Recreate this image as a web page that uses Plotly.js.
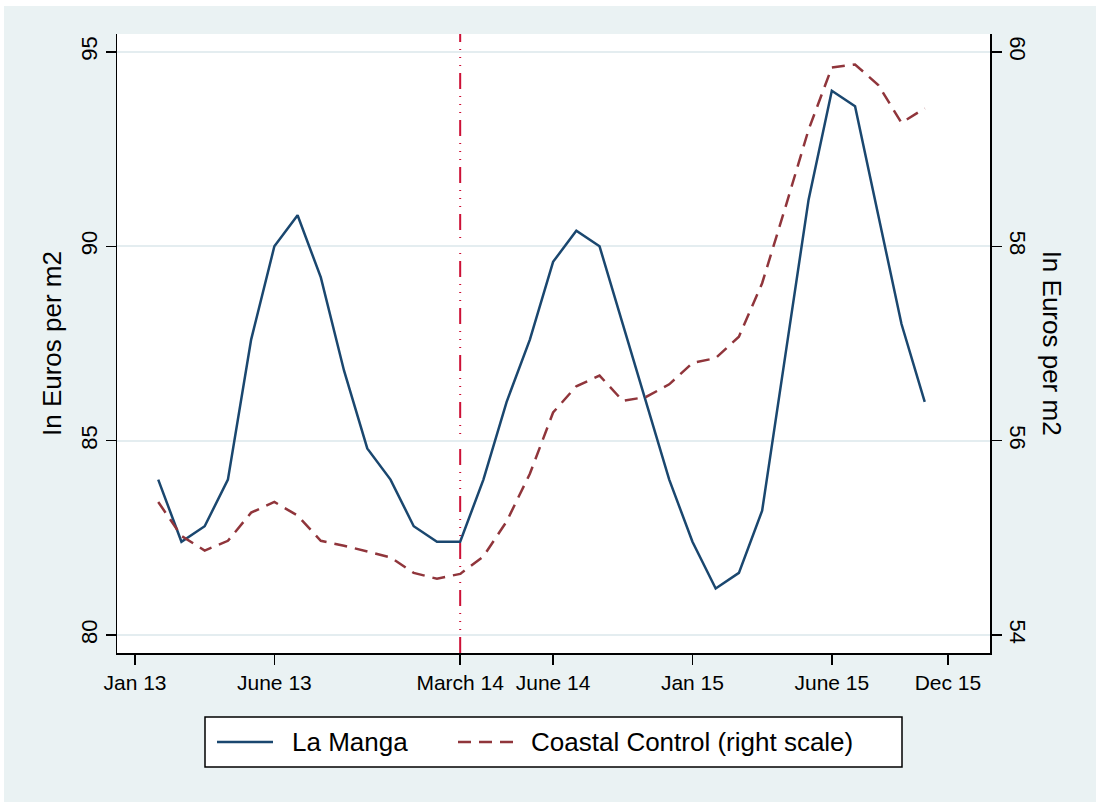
<!DOCTYPE html>
<html>
<head>
<meta charset="utf-8">
<script src="https://cdn.plot.ly/plotly-3.0.1.min.js"></script>
<style>
  html, body { margin: 0; padding: 0; background: #ffffff; }
  #chart { position: absolute; left: 4px; top: 6px; width: 1092px; height: 796px; }
</style>
</head>
<body>
<div id="chart"></div>
<script>
// Period index of each observation (Jan 13 = 0 on this scale)
const periods = [1, 2, 3, 4, 5, 6, 7, 8, 9, 10, 11, 12, 13, 14, 15, 16, 17,
                 18, 19, 20, 21, 22, 23, 24, 25, 26, 27, 28, 29, 30, 31, 32, 33, 34];

// La Manga, Euros per m2 (left scale)
const laManga = [84.0, 82.4, 82.8, 84.0, 87.6, 90.0, 90.8, 89.2, 86.8, 84.8, 84.0, 82.8,
                 82.4, 82.4, 84.0, 86.0, 87.6, 89.6, 90.4, 90.0, 88.0, 86.0, 84.0, 82.4,
                 81.2, 81.6, 83.2, 87.2, 91.2, 94.0, 93.6, 90.8, 88.0, 86.0];

// Coastal control, Euros per m2 (right scale)
const coastalControl = [55.37, 55.02, 54.87, 54.97, 55.26, 55.37, 55.23, 54.97, 54.92, 54.86,
                        54.80, 54.64, 54.58, 54.63, 54.81, 55.17, 55.66, 56.29, 56.56, 56.67,
                        56.41, 56.45, 56.58, 56.80, 56.85, 57.07, 57.62, 58.40, 59.20, 59.84,
                        59.87, 59.66, 59.27, 59.42];

// Date axis labels
const tickPeriods = [0, 6, 14, 18, 24, 30, 35];
const tickLabels = ['Jan 13', 'June 13', 'March 14', 'June 14', 'Jan 15', 'June 15', 'Dec 15'];

// Left and right value ticks
const leftTicks = [80, 85, 90, 95];
const rightTicks = [54, 56, 58, 60];

// Series names
const seriesNames = ['La Manga', 'Coastal Control (right scale)'];

// Period marked with the vertical reference line
const eventPeriod = 14;

const FONT = 'Liberation Sans, Arial, Helvetica, sans-serif';
const BG = '#eaf2f3';
const NAVY = '#1a476f';
const MAROON = '#90353b';
const SERIES_DASH = '13px,8px';

// Figure geometry (pixels inside the chart div)
const W = 1092, H = 796;
const M = { l: 113, r: 106, t: 28, b: 149 };
const plotW = W - M.l - M.r, plotH = H - M.t - M.b;
// Convert div pixel positions to paper fractions for the legend box
const px = (x) => (x - M.l) / plotW;
const py = (y) => 1 - (y - M.t) / plotH;

const traces = [
  {
    x: periods, y: laManga, name: seriesNames[0],
    type: 'scatter', mode: 'lines', yaxis: 'y',
    line: { color: NAVY, width: 2.5 },
    hoverinfo: 'skip'
  },
  {
    x: periods, y: coastalControl, name: seriesNames[1],
    type: 'scatter', mode: 'lines', yaxis: 'y2',
    line: { color: MAROON, width: 2.5, dash: SERIES_DASH },
    hoverinfo: 'skip'
  }
];

// Legend box laid out below the x axis
const legTop = 711, legBottom = 761, legLeft = 201, legRight = 898;
const legMid = (legTop + legBottom) / 2;

const layout = {
  width: W, height: H,
  paper_bgcolor: BG, plot_bgcolor: '#ffffff',
  margin: M,
  font: { family: FONT, color: '#000000' },
  showlegend: false,
  xaxis: {
    range: [-0.775, 36.81],
    tickmode: 'array', tickvals: tickPeriods, ticktext: tickLabels,
    ticks: 'outside', ticklen: 10, tickwidth: 1.5, tickcolor: '#000',
    tickfont: { size: 21, family: FONT },
    showline: true, linecolor: '#000', linewidth: 1.5,
    showgrid: false, zeroline: false, fixedrange: true
  },
  yaxis: {
    range: [79.54, 95.46],
    tickmode: 'array', tickvals: leftTicks,
    ticks: 'outside', ticklen: 10, tickwidth: 1.5, tickcolor: '#000',
    tickangle: -90,
    tickfont: { size: 22, family: FONT },
    showline: true, linecolor: '#000', linewidth: 1.5,
    showgrid: true, gridcolor: '#e4edf0', gridwidth: 2,
    zeroline: false, fixedrange: true
  },
  yaxis2: {
    overlaying: 'y', side: 'right',
    range: [53.816, 60.184],
    tickmode: 'array', tickvals: rightTicks,
    ticks: 'outside', ticklen: 10, tickwidth: 1.5, tickcolor: '#000',
    tickangle: 90,
    tickfont: { size: 22, family: FONT },
    showline: true, linecolor: '#000', linewidth: 1.5,
    showgrid: false, zeroline: false, fixedrange: true
  },
  shapes: [
    {
      type: 'line', xref: 'x', yref: 'paper',
      x0: eventPeriod, x1: eventPeriod, y0: 0, y1: 1,
      line: { color: '#cc1036', width: 2, dash: '16px,7px,1px,7px,1px,7px,1px,7px' },
      layer: 'below'
    },
    // legend frame
    {
      type: 'rect', xref: 'paper', yref: 'paper',
      x0: px(legLeft), x1: px(legRight), y0: py(legBottom), y1: py(legTop),
      fillcolor: '#ffffff', line: { color: '#000', width: 1.5 }
    },
    // legend key: La Manga
    {
      type: 'line', xref: 'paper', yref: 'paper',
      x0: px(213), x1: px(269), y0: py(legMid), y1: py(legMid),
      line: { color: NAVY, width: 2.5 }
    },
    // legend key: Coastal Control
    {
      type: 'line', xref: 'paper', yref: 'paper',
      x0: px(454), x1: px(510), y0: py(legMid), y1: py(legMid),
      line: { color: MAROON, width: 2.5, dash: SERIES_DASH }
    }
  ],
  annotations: [
    {
      text: 'In Euros per m2', xref: 'paper', yref: 'paper',
      x: -0.075, y: 0.5, xanchor: 'center', yanchor: 'middle',
      textangle: -90, showarrow: false,
      font: { size: 26, family: FONT, color: '#000' }
    },
    {
      text: 'In Euros per m2', xref: 'paper', yref: 'paper',
      x: 1.072, y: 0.5, xanchor: 'center', yanchor: 'middle',
      textangle: 90, showarrow: false,
      font: { size: 26, family: FONT, color: '#000' }
    },
    {
      text: seriesNames[0], xref: 'paper', yref: 'paper',
      x: px(286), y: py(legMid), xanchor: 'left', yanchor: 'middle',
      showarrow: false,
      font: { size: 26, family: FONT, color: '#000' }
    },
    {
      text: seriesNames[1], xref: 'paper', yref: 'paper',
      x: px(525), y: py(legMid), xanchor: 'left', yanchor: 'middle',
      showarrow: false,
      font: { size: 26, family: FONT, color: '#000' }
    }
  ]
};

Plotly.newPlot('chart', traces, layout, { displayModeBar: false, staticPlot: true });
</script>
</body>
</html>
